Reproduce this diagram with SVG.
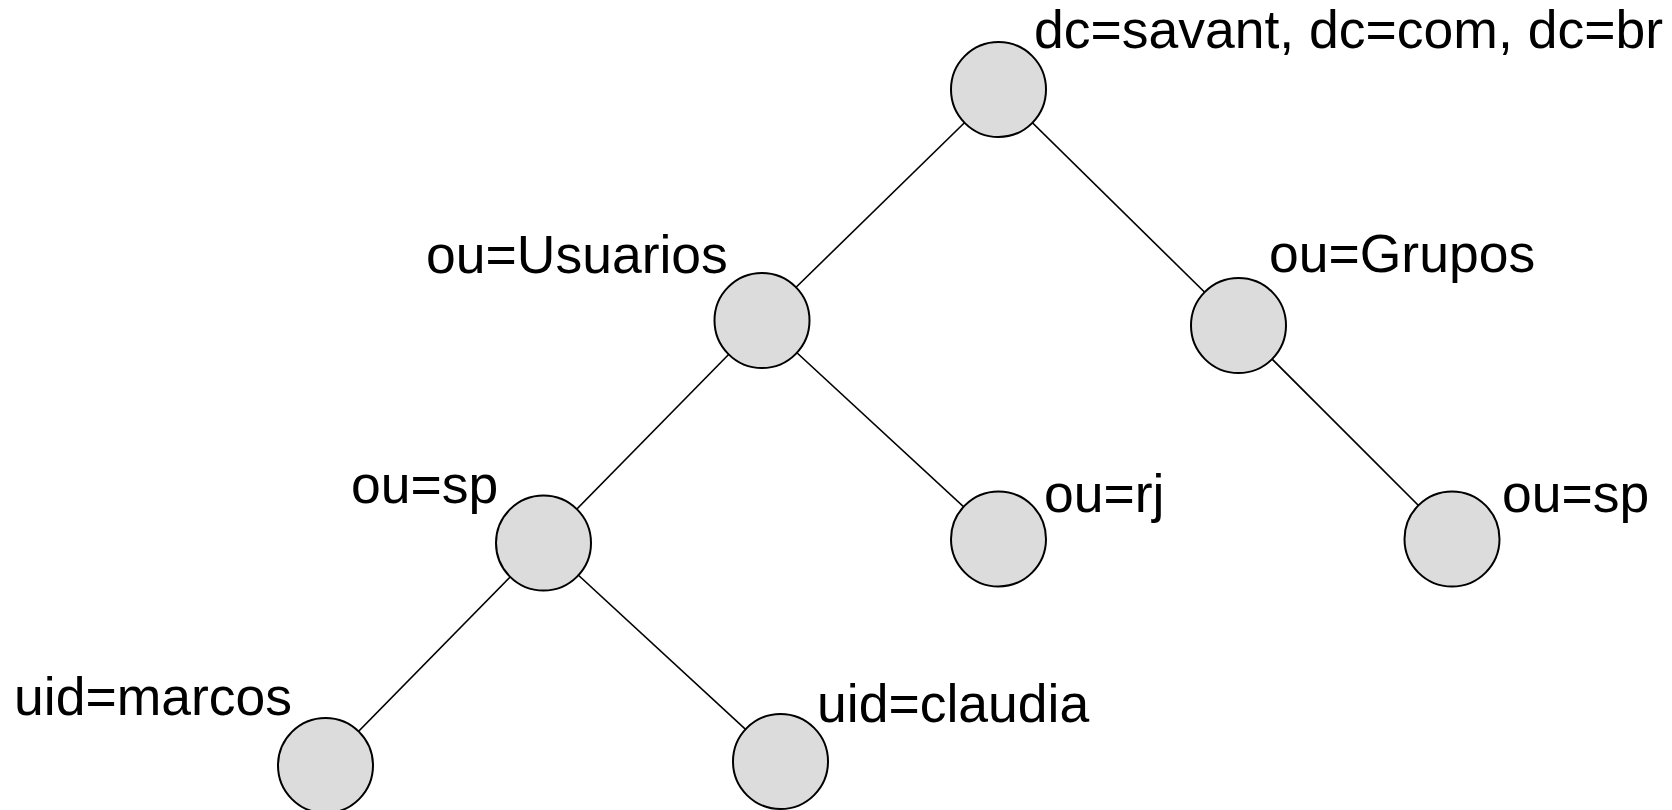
<svg xmlns="http://www.w3.org/2000/svg" width="1672" height="810" viewBox="0 0 1672 810">
  <style>
    .edge { stroke: #000; stroke-width: 1.6; fill: none; }
    .node circle { fill: #dcdcdc; stroke: #000; stroke-width: 2; }
    .label { font-family: "Liberation Sans", Arial, sans-serif; font-size: 53.5px; fill: #000; }
  </style>
  <rect width="1672" height="810" fill="#fff"/>

  <!-- tree edges, drawn centre to centre; the filled nodes cover the ends -->
  <g id="connectors">
    <line class="edge" x1="998.5" y1="89.5" x2="762" y2="320.5"/>
    <line class="edge" x1="998.5" y1="89.5" x2="1238.5" y2="325.5"/>
    <line class="edge" x1="762" y1="320.5" x2="543.5" y2="543"/>
    <line class="edge" x1="762" y1="320.5" x2="998.5" y2="539"/>
    <line class="edge" x1="1238.5" y1="325.5" x2="1452" y2="539"/>
    <line class="edge" x1="543.5" y1="543" x2="325.5" y2="765"/>
    <line class="edge" x1="543.5" y1="543" x2="780.5" y2="761.5"/>
  </g>

  <g id="root" class="node">
    <circle cx="998.5" cy="89.5" r="47.5"/>
    <text class="label" x="1034" y="48">dc=savant, dc=com, dc=br</text>
  </g>
  <g id="usuarios" class="node">
    <circle cx="762" cy="320.5" r="47.5"/>
    <text class="label" x="426" y="273">ou=Usuarios</text>
  </g>
  <g id="grupos" class="node">
    <circle cx="1238.5" cy="325.5" r="47.5"/>
    <text class="label" x="1269" y="272">ou=Grupos</text>
  </g>
  <g id="usuarios-sp" class="node">
    <circle cx="543.5" cy="543" r="47.5"/>
    <text class="label" x="351" y="503">ou=sp</text>
  </g>
  <g id="usuarios-rj" class="node">
    <circle cx="998.5" cy="539" r="47.5"/>
    <text class="label" x="1044" y="512">ou=rj</text>
  </g>
  <g id="grupos-sp" class="node">
    <circle cx="1452" cy="539" r="47.5"/>
    <text class="label" x="1502" y="512">ou=sp</text>
  </g>
  <g id="marcos" class="node">
    <circle cx="325.5" cy="765.5" r="47.5"/>
    <text class="label" x="14" y="715">uid=marcos</text>
  </g>
  <g id="claudia" class="node">
    <circle cx="780.5" cy="761.5" r="47.5"/>
    <text class="label" x="817" y="722">uid=claudia</text>
  </g>
</svg>
